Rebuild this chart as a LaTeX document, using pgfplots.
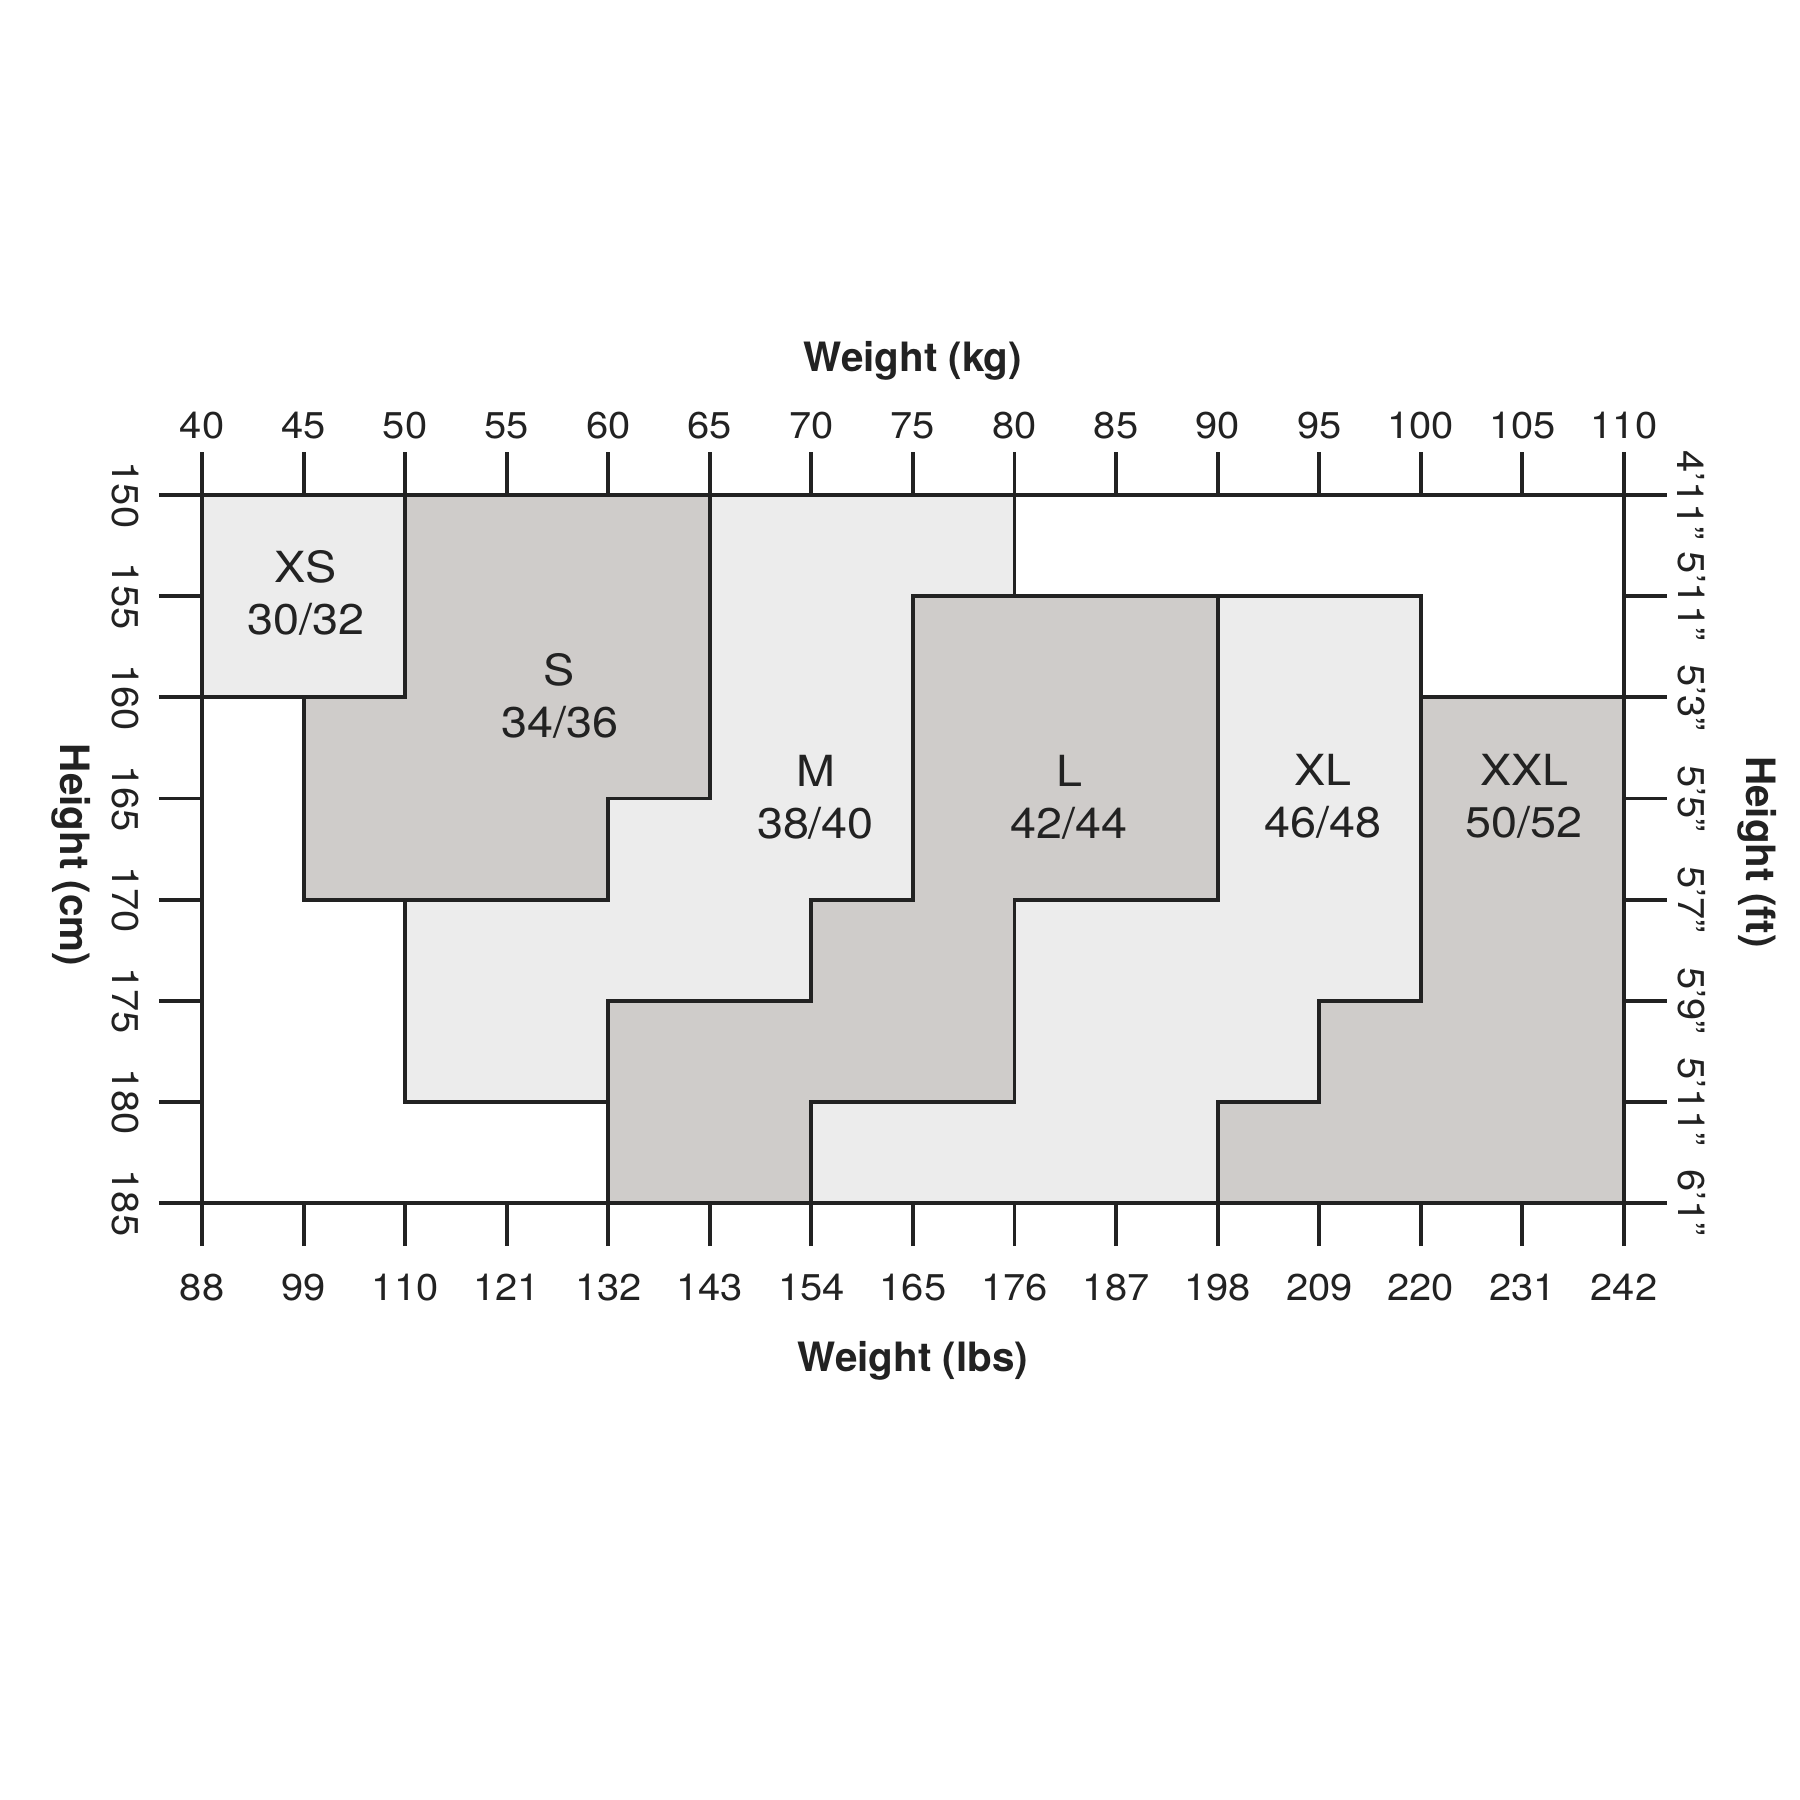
\documentclass[border=0pt]{standalone}
\usepackage{fontspec}
\setmainfont{TeX Gyre Heros}
\newfontfamily\wide[FakeStretch=1.07]{TeX Gyre Heros}
\newfontfamily\wider[FakeStretch=1.09]{TeX Gyre Heros}
\usepackage{pgfplots}
\pgfplotsset{compat=1.18}
\definecolor{lightfill}{RGB}{236,236,236}
\definecolor{darkfill}{RGB}{207,204,202}
\definecolor{ink}{RGB}{34,34,34}
\pgfplotsset{
  common/.style={
    at={(2.02cm,5.97cm)}, anchor=south west,
    width=14.22cm, height=7.08cm, scale only axis,
    xmin=40, xmax=110, ymin=150, ymax=185, y dir=reverse,
    xtick={40,45,...,110}, ytick={150,155,...,185},
    clip=false,
  },
  nolines/.style={
    axis line style={draw=none}, tick style={draw=none}, major tick length=0pt,
  },
}
\begin{document}
\begin{tikzpicture}[x=1cm,y=1cm]
\path[use as bounding box] (0,0) rectangle (18,18);
% frame, ticks and regions
\begin{axis}[common,
  axis on top,
  axis line style={ink, line width=1.1pt},
  tick style={ink, line width=1.1pt},
  tick align=outside, major tick length=0.43cm,
  xtick pos=both, ytick pos=both,
  xticklabels={}, yticklabels={},
]
\addplot[fill=lightfill, draw=ink, line width=1.1pt] coordinates {(40,150) (50,150) (50,160) (40,160)} -- cycle;
\addplot[fill=darkfill, draw=ink, line width=1.1pt] coordinates {(50,150) (65,150) (65,165) (60,165) (60,170) (45,170) (45,160) (50,160)} -- cycle;
\addplot[fill=lightfill, draw=ink, line width=1.1pt] coordinates {(65,150) (80,150) (80,155) (75,155) (75,170) (70,170) (70,175) (60,175) (60,180) (50,180) (50,170) (60,170) (60,165) (65,165)} -- cycle;
\addplot[fill=darkfill, draw=ink, line width=1.1pt] coordinates {(75,155) (90,155) (90,170) (80,170) (80,180) (70,180) (70,185) (60,185) (60,175) (70,175) (70,170) (75,170)} -- cycle;
\addplot[fill=lightfill, draw=ink, line width=1.1pt] coordinates {(90,155) (100,155) (100,175) (95,175) (95,180) (90,180) (90,185) (70,185) (70,180) (80,180) (80,170) (90,170)} -- cycle;
\addplot[fill=darkfill, draw=ink, line width=1.1pt] coordinates {(100,160) (110,160) (110,185) (90,185) (90,180) (95,180) (95,175) (100,175)} -- cycle;
\begin{scope}[every node/.style={align=center, text=ink, font=\wider\fontsize{12.2}{14.8}\selectfont}]
\node at (axis cs:45.1,154.85) {XS\\30/32};
\node at (axis cs:57.6,159.95) {S\\34/36};
\node at (axis cs:70.2,164.95) {M\\38/40};
\node at (axis cs:82.7,164.95) {L\\42/44};
\node at (axis cs:95.2,164.9) {XL\\46/48};
\node at (axis cs:105.1,164.9) {XXL\\50/52};
\end{scope}
\end{axis}
% top (kg) and left (cm) labels
\begin{axis}[common, nolines,
  xticklabel pos=upper, yticklabel pos=left,
  xticklabels={40,45,50,55,60,65,70,75,80,85,90,95,100,105,110},
  yticklabels={150,155,160,165,170,175,180,185},
  xticklabel style={anchor=south, inner sep=0pt, yshift=0.55cm, text=ink, font=\wide\fontsize{10.6}{12}\selectfont},
  yticklabel style={xshift=-0.62cm, rotate=-90, anchor=north, inner sep=0pt, text=ink, font=\wide\fontsize{10.6}{12}\selectfont},
]
\end{axis}
% bottom (lbs) and right (ft) labels
\begin{axis}[common, nolines,
  xticklabel pos=lower, yticklabel pos=right,
  xticklabels={88,99,110,121,132,143,154,165,176,187,198,209,220,231,242},
  yticklabels={4’11”,5’11”,5’3”,5’5”,5’7”,5’9”,5’11”,6’1”},
  xticklabel style={anchor=north, inner sep=0pt, yshift=-0.70cm, text=ink, font=\wide\fontsize{10.6}{12}\selectfont},
  yticklabel style={xshift=0.53cm, rotate=-90, anchor=south, inner sep=0pt, text=ink, font=\wide\fontsize{10.6}{12}\selectfont},
]
\end{axis}
\begin{scope}[every node/.style={text=ink, font=\bfseries\fontsize{11.5}{14}\selectfont, inner sep=0pt}]
\node[anchor=base] at (9.13,14.28) {Weight (kg)};
\node[anchor=base] at (9.13,4.28) {Weight (lbs)};
\node[rotate=-90] at (0.71,9.45) {Height (cm)};
\node[rotate=-90] at (17.57,9.48) {Height (ft)};
\end{scope}
\end{tikzpicture}
\end{document}
